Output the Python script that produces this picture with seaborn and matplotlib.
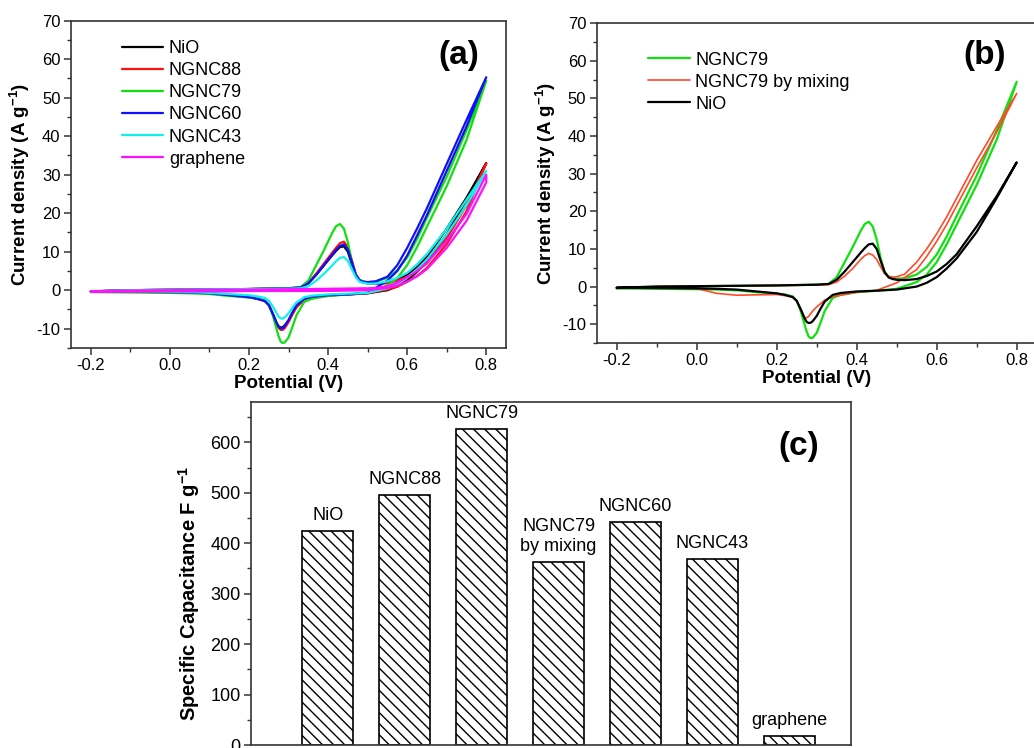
import numpy as np
import pandas as pd
import matplotlib
matplotlib.use("Agg")
import matplotlib.pyplot as plt
from matplotlib.ticker import MultipleLocator
import seaborn as sns

sns.set_theme(style="ticks")
plt.rcParams["font.family"] = ["Liberation Sans", "DejaVu Sans"]
plt.rcParams["axes.unicode_minus"] = False
plt.rcParams["mathtext.fontset"] = "custom"
plt.rcParams["mathtext.bf"] = "Liberation Sans:bold"
plt.rcParams["mathtext.rm"] = "Liberation Sans"
plt.rcParams["mathtext.default"] = "bf"
plt.rcParams["hatch.linewidth"] = 1.0
plt.rcParams["text.color"] = "black"
plt.rcParams["axes.labelcolor"] = "black"

# ── CV data: potential grids (V) for forward and reverse scans ─────────────
E_fwd = [-0.2, -0.1, 0.0, 0.1, 0.2, 0.3, 0.33, 0.35, 0.37, 0.39, 0.41, 0.42,
         0.43, 0.44, 0.45, 0.46, 0.47, 0.48, 0.49, 0.50, 0.52, 0.55, 0.575,
         0.60, 0.625, 0.65, 0.70, 0.75, 0.80]
E_rev = [0.80, 0.75, 0.70, 0.65, 0.625, 0.60, 0.575, 0.55, 0.50, 0.45, 0.40,
         0.36, 0.34, 0.32, 0.31, 0.30, 0.29, 0.285, 0.28, 0.275, 0.27, 0.26,
         0.25, 0.24, 0.22, 0.20, 0.15, 0.10, 0.05, 0.0, -0.1, -0.2]

# current density (A/g)
nio_fwd = [-0.3, 0.0, 0.1, 0.2, 0.3, 0.5, 0.7, 1.8, 4.0, 6.5, 9.0, 10.2,
           11.2, 11.4, 10.0, 6.8, 3.8, 2.4, 2.0, 1.8, 1.7, 2.0, 2.8,
           4.0, 6.0, 8.6, 16.0, 24.0, 33.0]
nio_rev = [33.0, 23.5, 14.5, 7.5, 4.8, 2.5, 1.0, 0.0, -0.8, -1.1, -1.3,
           -1.7, -2.2, -4.0, -5.8, -7.8, -9.2, -9.6, -9.7, -9.4, -8.5, -6.0,
           -3.8, -2.8, -2.2, -1.8, -1.3, -0.8, -0.6, -0.5, -0.4, -0.3]

ngnc88_fwd = [-0.3, 0.0, 0.1, 0.2, 0.3, 0.5, 0.7, 1.9, 4.3, 7.0, 9.7, 11.0,
              12.2, 12.6, 11.2, 7.8, 4.2, 2.5, 2.0, 1.8, 1.6, 1.8, 2.5,
              3.5, 5.0, 7.0, 13.5, 22.0, 33.0]
ngnc88_rev = [33.0, 20.5, 12.0, 5.8, 3.7, 2.2, 0.9, 0.2, -0.8, -1.1, -1.4,
              -1.8, -2.4, -4.5, -6.3, -8.3, -9.9, -10.3, -10.3, -9.8, -8.8, -6.2,
              -3.9, -2.8, -2.2, -1.8, -1.3, -0.8, -0.6, -0.5, -0.4, -0.3]

ngnc79_fwd = [-0.4, 0.0, 0.1, 0.2, 0.3, 0.5, 0.7, 2.5, 6.5, 10.5, 14.8, 16.6,
              17.2, 16.0, 12.5, 7.5, 3.8, 2.6, 2.3, 2.1, 2.2, 3.2, 5.2,
              8.5, 13.3, 18.8, 29.5, 41.5, 54.4]
ngnc79_rev = [54.4, 39.0, 27.0, 16.5, 11.2, 6.5, 3.2, 1.2, -0.6, -1.1, -1.5,
              -2.2, -3.0, -6.5, -9.5, -12.3, -13.6, -13.7, -13.3, -12.0, -10.2, -6.5,
              -3.8, -2.6, -2.1, -1.9, -1.5, -1.0, -0.8, -0.7, -0.6, -0.5]

ngnc60_fwd = [-0.3, 0.0, 0.1, 0.2, 0.3, 0.5, 0.7, 1.8, 4.0, 6.6, 9.2, 10.5,
              11.5, 11.9, 10.6, 7.4, 4.0, 2.6, 2.2, 2.1, 2.3, 3.5, 6.5,
              11.0, 16.0, 21.3, 32.8, 44.2, 55.3]
ngnc60_rev = [55.3, 42.5, 31.0, 19.5, 14.2, 9.0, 5.0, 2.5, -0.7, -1.1, -1.3,
              -1.7, -2.2, -4.0, -5.8, -7.8, -9.4, -9.9, -9.9, -9.5, -8.6, -6.1,
              -3.8, -2.8, -2.2, -1.8, -1.3, -0.8, -0.6, -0.5, -0.4, -0.3]

ngnc43_fwd = [-0.3, 0.0, 0.1, 0.2, 0.3, 0.4, 0.5, 1.0, 2.5, 4.3, 6.4, 7.5,
              8.4, 8.6, 7.6, 5.5, 3.4, 2.2, 1.9, 1.7, 1.7, 2.3, 3.2,
              4.5, 6.7, 9.4, 16.0, 23.5, 31.0]
ngnc43_rev = [31.0, 22.0, 14.5, 8.0, 5.4, 3.3, 1.6, 0.5, -0.7, -0.9, -1.1,
              -1.4, -1.8, -3.2, -4.5, -6.0, -7.1, -7.4, -7.3, -6.9, -6.0, -4.2,
              -2.7, -2.0, -1.6, -1.3, -1.0, -0.7, -0.5, -0.4, -0.3, -0.3]

graphene_fwd = [-0.3, -0.1, 0.0, 0.1, 0.15, 0.25, 0.28, 0.3, 0.32, 0.35, 0.38, 0.4,
                0.4, 0.42, 0.43, 0.45, 0.46, 0.48, 0.5, 0.5, 0.6, 1.0, 2.0,
                3.3, 5.0, 7.2, 12.8, 19.8, 30.0]
graphene_rev = [28.0, 18.0, 11.0, 5.5, 3.6, 2.2, 1.2, 0.6, 0.0, -0.1, -0.2,
                -0.2, -0.2, -0.2, -0.2, -0.2, -0.2, -0.2, -0.2, -0.2, -0.2, -0.2,
                -0.2, -0.2, -0.2, -0.2, -0.3, -0.3, -0.3, -0.3, -0.4, -0.4]

mixing_fwd = [-0.5, 0.0, 0.1, 0.2, 0.3, 0.4, 0.5, 1.2, 2.8, 4.8, 7.2, 8.2,
              8.8, 8.4, 7.2, 5.2, 3.4, 2.7, 2.5, 2.6, 3.3, 6.5, 10.0,
              14.0, 18.5, 23.5, 33.5, 42.5, 51.3]
mixing_rev = [51.3, 41.0, 31.5, 21.5, 16.5, 12.0, 8.0, 4.5, 1.0, -1.0, -1.5,
              -2.3, -2.7, -3.6, -4.5, -5.4, -6.5, -7.2, -7.9, -8.3, -8.3, -6.0,
              -3.8, -2.8, -2.4, -2.1, -2.2, -2.3, -1.8, -0.5, -0.4, -0.4]

# ── Specific capacitance (F/g) ─────────────────────────────────────────────
samples = ["NiO", "NGNC88", "NGNC79", "NGNC79 by mixing", "NGNC60", "NGNC43", "graphene"]
bar_labels = ["NiO", "NGNC88", "NGNC79", "NGNC79\nby mixing", "NGNC60", "NGNC43", "graphene"]
capacitance = [425, 495, 627, 363, 443, 368, 18]


def cv_frame(fwd, rev):
    return pd.DataFrame({"E": E_fwd + E_rev, "I": fwd + rev})


def style_axis(ax):
    for s in ax.spines.values():
        s.set_linewidth(1.2)
        s.set_color("#333333")
        s.set_visible(True)
    ax.tick_params(which="both", direction="out", colors="#333333",
                   labelcolor="black", labelsize=12, pad=2.5,
                   top=False, right=False)
    ax.tick_params(which="major", length=5, width=1.1)
    ax.tick_params(which="minor", length=3, width=1.0)


def cv_axis(ax):
    ax.set_xlim(-0.25, 0.85)
    ax.set_ylim(-15, 70)
    ax.set_xticks([-0.2, 0.0, 0.2, 0.4, 0.6, 0.8])
    ax.set_xticklabels(["-0.2", "0.0", "0.2", "0.4", "0.6", "0.8"])
    ax.xaxis.set_minor_locator(MultipleLocator(0.1))
    ax.set_yticks(range(-10, 71, 10))
    ax.yaxis.set_minor_locator(MultipleLocator(5))
    ax.set_xlabel("Potential (V)", fontsize=13.5, fontweight="bold", labelpad=1)
    ax.set_ylabel(r"Current density (A g$^{-1}$)", fontsize=13.5,
                  fontweight="bold", labelpad=3)
    style_axis(ax)


fig = plt.figure(figsize=(10.34, 7.48), dpi=100)
fig.patch.set_facecolor("white")

# ── (a) ────────────────────────────────────────────────────────────────────
ax1 = fig.add_axes([0.0687, 0.5348, 0.4207, 0.4376])
curves_a = [("NiO", nio_fwd, nio_rev, "black"),
            ("NGNC88", ngnc88_fwd, ngnc88_rev, "#ff1010"),
            ("NGNC79", ngnc79_fwd, ngnc79_rev, "#10e010"),
            ("NGNC60", ngnc60_fwd, ngnc60_rev, "#1010ff"),
            ("NGNC43", ngnc43_fwd, ngnc43_rev, "#10f0f0"),
            ("graphene", graphene_fwd, graphene_rev, "#ff10ff")]
for name, fwd, rev, col in curves_a:
    sns.lineplot(data=cv_frame(fwd, rev), x="E", y="I", sort=False, estimator=None,
                 color=col, lw=1.6, label=name, ax=ax1)
cv_axis(ax1)
ax1.legend(loc="upper left", bbox_to_anchor=(0.117, 0.94), frameon=False,
           fontsize=13, handlelength=2.3, handletextpad=0.3, labelspacing=0.28,
           borderpad=0, borderaxespad=0)
ax1.text(0.892, 0.892, "(a)", transform=ax1.transAxes, fontsize=24,
         fontweight="bold", ha="center", va="center")

# ── (b) ────────────────────────────────────────────────────────────────────
ax2 = fig.add_axes([0.5771, 0.5414, 0.4255, 0.4278])
curves_b = [("NGNC79", ngnc79_fwd, ngnc79_rev, "#10e010", 1.6),
            ("NGNC79 by mixing", mixing_fwd, mixing_rev, "#ff4a2a", 1.2),
            ("NiO", nio_fwd, nio_rev, "black", 1.6)]
for name, fwd, rev, col, w in curves_b:
    sns.lineplot(data=cv_frame(fwd, rev), x="E", y="I", sort=False, estimator=None,
                 color=col, lw=w, label=name, ax=ax2)
cv_axis(ax2)
ax2.legend(loc="upper left", bbox_to_anchor=(0.117, 0.911), frameon=False,
           fontsize=13, handlelength=2.3, handletextpad=0.3, labelspacing=0.28,
           borderpad=0, borderaxespad=0)
ax2.text(0.8825, 0.898, "(b)", transform=ax2.transAxes, fontsize=24,
         fontweight="bold", ha="center", va="center")

# ── (c) ────────────────────────────────────────────────────────────────────
ax3 = fig.add_axes([0.2427, 0.004, 0.5803, 0.4586])
sns.barplot(x=samples, y=capacitance, color="white", saturation=1,
            edgecolor="black", linewidth=1.2, width=0.66, ax=ax3)
for p in ax3.patches:
    p.set_hatch("\\\\\\")
for i, (lbl, v) in enumerate(zip(bar_labels, capacitance)):
    ax3.annotate(lbl, (i, v), xytext=(0, 5), textcoords="offset points",
                 ha="center", va="bottom", fontsize=13, color="black")
ax3.set_xlim(-1.0, 6.8)
ax3.set_ylim(0, 680)
ax3.set_yticks(range(0, 601, 100))
ax3.yaxis.set_minor_locator(MultipleLocator(50))
ax3.set_ylabel(r"Specific Capacitance F g$^{-1}$", fontsize=14.5, fontweight="bold")
ax3.yaxis.set_label_coords(-0.082, 0.443)
ax3.set_xlabel("")
style_axis(ax3)
ax3.tick_params(axis="x", which="both", bottom=False, labelbottom=False)
ax3.tick_params(axis="y", labelsize=13)
ax3.text(0.913, 0.871, "(c)", transform=ax3.transAxes, fontsize=24,
         fontweight="bold", ha="center", va="center")

fig.savefig("out.png", dpi=100)
